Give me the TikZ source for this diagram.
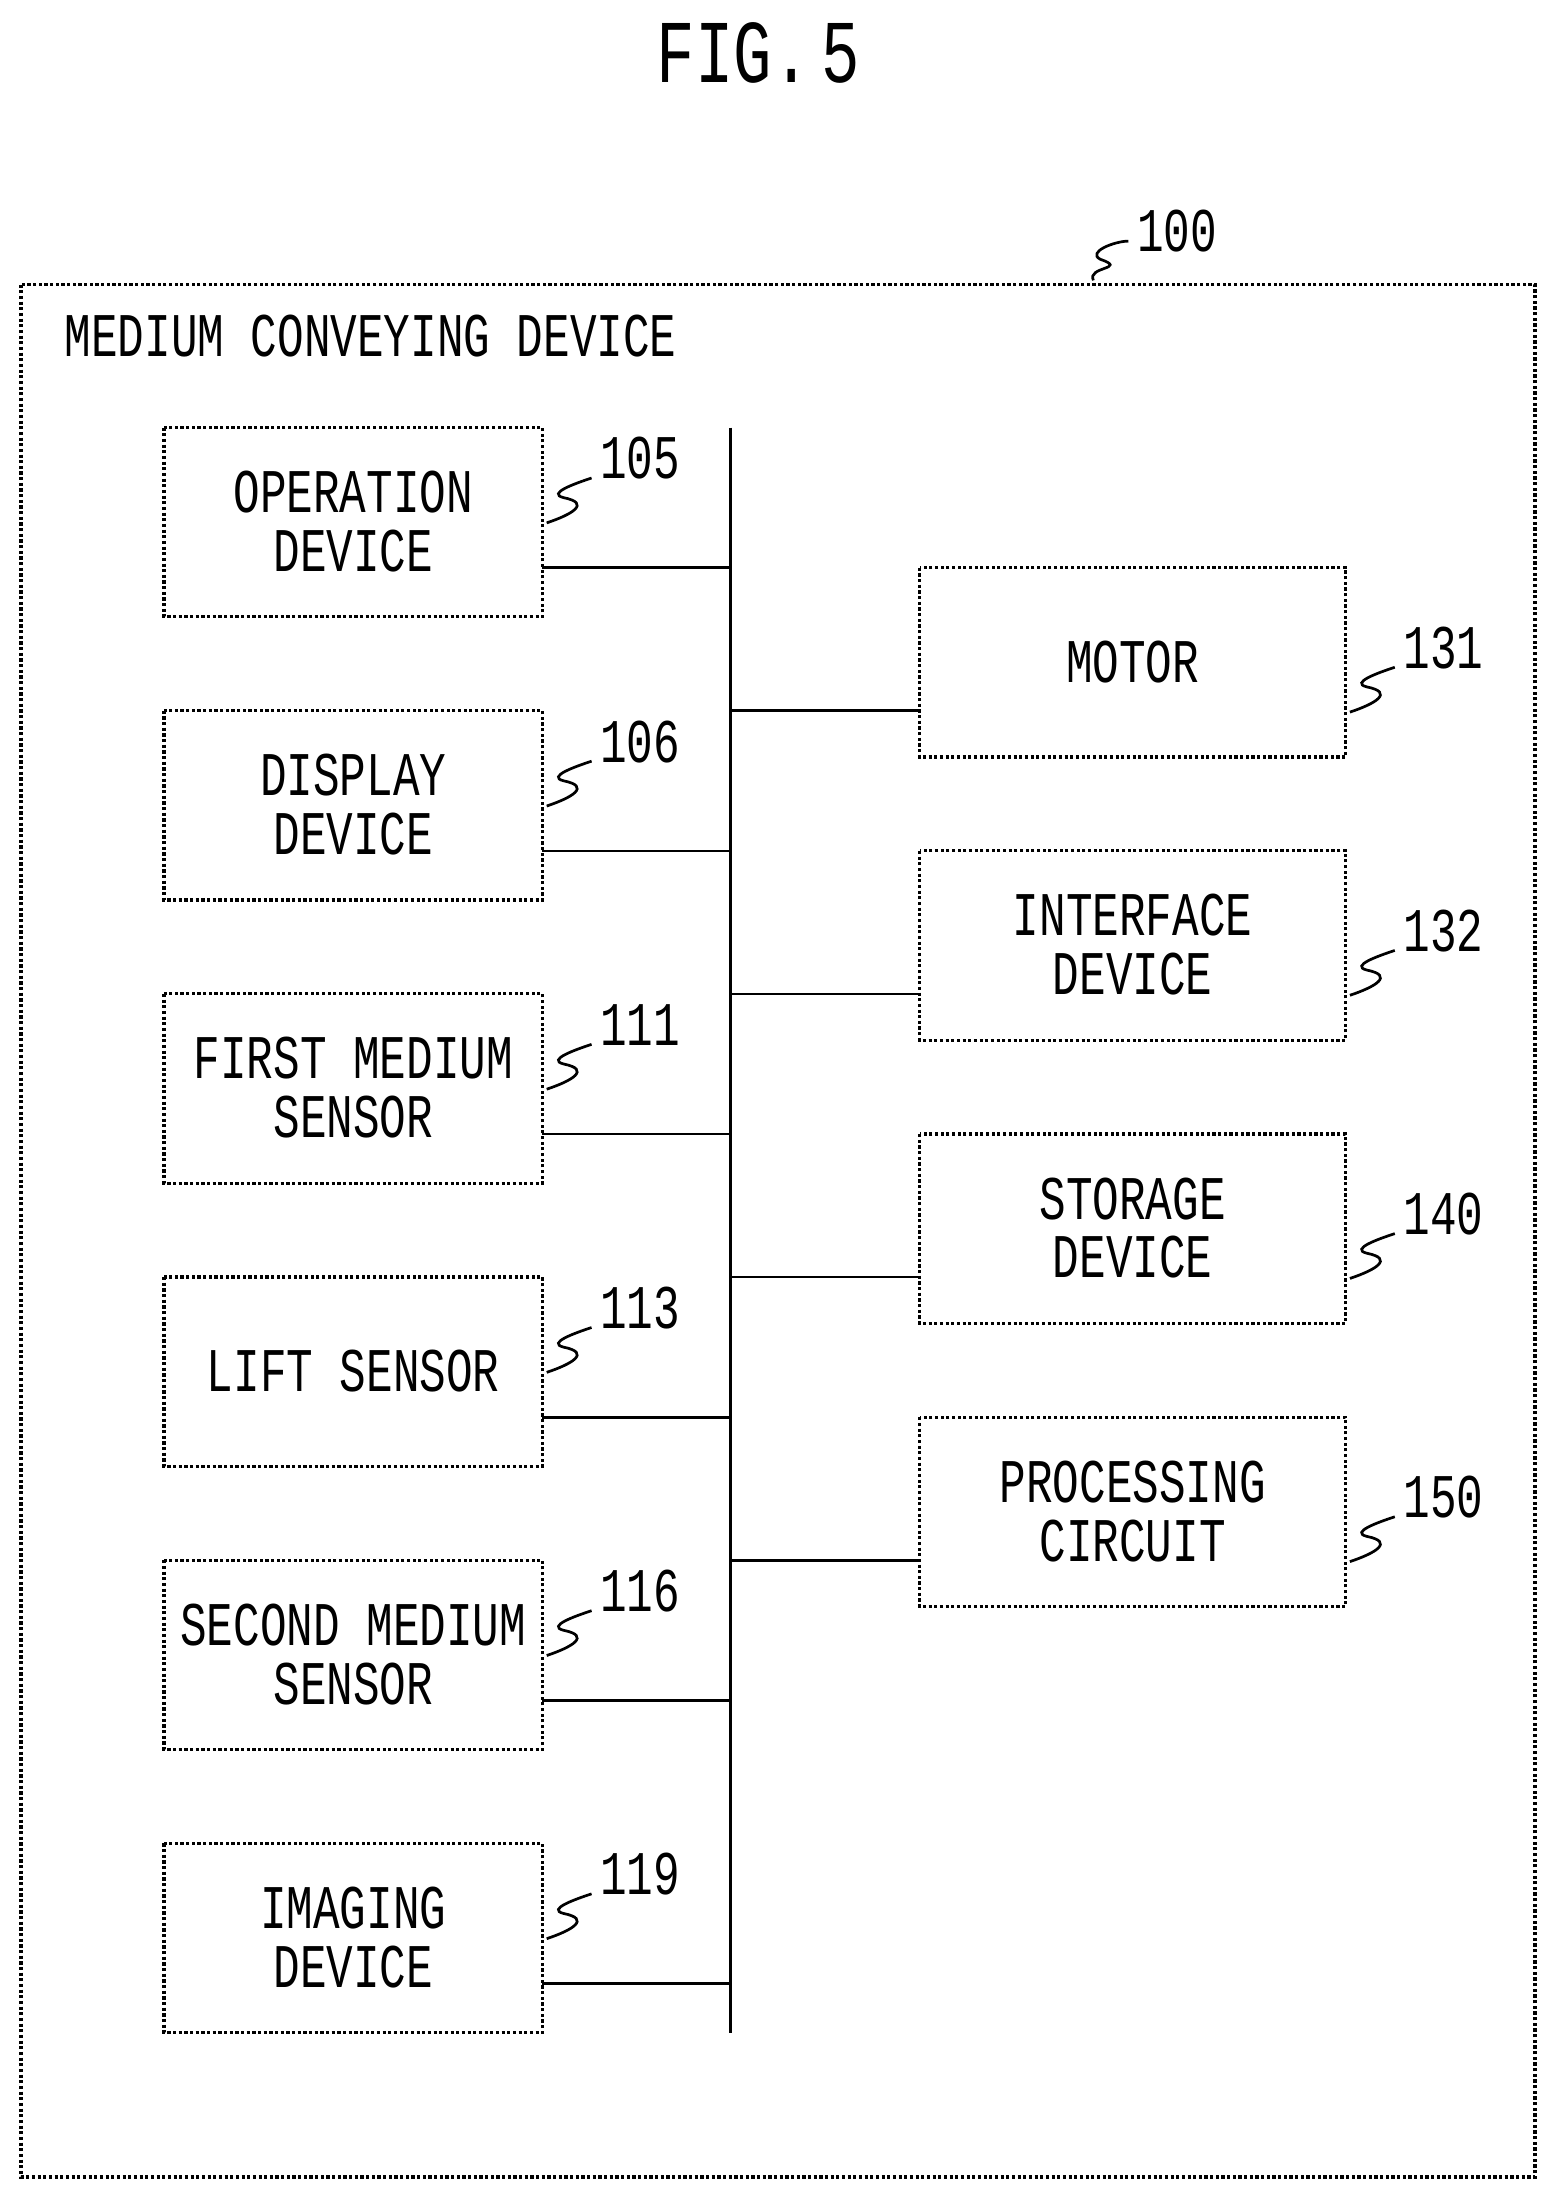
\documentclass[tikz,border=0pt]{standalone}
\usepackage{fontspec}
\setmainfont{Liberation Mono}
\usepackage{graphicx}
\newcommand{\tl}[1]{\scalebox{1}[1.4]{#1}}
\begin{document}
\begin{tikzpicture}[x=0.02cm,y=-0.02cm,
  box/.style={draw,line width=1.3pt,densely dotted},
  bx/.style={line width=1.1pt},
  txt/.style={font=\fontsize{18}{24}\selectfont,align=center},
  num/.style={font=\fontsize{18}{24}\selectfont,anchor=west}]
\useasboundingbox (0,0) rectangle (1110,1568);
\node[font=\fontsize{26}{30}\selectfont] (fig) at (541,38) {\tl{FIG.\,5}};
\draw[box] (15,203) rectangle (1095,1553);
\coordinate (outer) at (780,200);
\node[num] (n100) at (805,165) {\tl{100}};
\draw[bx] (outer) .. controls (775,190) and (805,192) .. (785,185) .. controls (775,180) and (795,172) .. (805,172);
\node[txt,anchor=west] (title) at (40,240) {\tl{MEDIUM CONVEYING DEVICE}};
\coordinate (bustop) at (521,305);
\coordinate (busbot) at (521,1450);
\draw[bx] (bustop) -- (busbot);
\foreach \y/\t/\n in {305/{OPERATION\\DEVICE}/105,507/{DISPLAY\\DEVICE}/106,709/{FIRST MEDIUM\\SENSOR}/111,911/{LIFT SENSOR}/113,1113/{SECOND MEDIUM\\SENSOR}/116,1315/{IMAGING\\DEVICE}/119}{
  \draw[box] (117,\y) rectangle (387,\y+135);
  \node[txt] (L\n) at (252,\y+67) {\tl{\parbox{7cm}{\centering\baselineskip=0.6cm \t}}};
  \coordinate (Lc\n) at (387,\y+100);
  \coordinate (Bc\n) at (521,\y+100);
  \draw[bx] (Lc\n) -- (Bc\n);
  \node[num] (N\n) at (422,\y+22) {\tl{\n}};
  \draw[bx] (390,\y+68) .. controls (408,\y+62) and (422,\y+54) .. (402,\y+50) .. controls (390,\y+47) and (410,\y+40) .. (422,\y+36);
}
\foreach \y/\t/\n in {405/{MOTOR}/131,607/{INTERFACE\\DEVICE}/132,809/{STORAGE\\DEVICE}/140,1011/{PROCESSING\\CIRCUIT}/150}{
  \draw[box] (656,\y) rectangle (960,\y+135);
  \node[txt] (R\n) at (808,\y+67) {\tl{\parbox{7cm}{\centering\baselineskip=0.6cm \t}}};
  \coordinate (Rc\n) at (656,\y+102);
  \coordinate (Bd\n) at (521,\y+102);
  \draw[bx] (Bd\n) -- (Rc\n);
  \node[num] (N\n) at (995,\y+57) {\tl{\n}};
  \draw[bx] (963,\y+103) .. controls (981,\y+97) and (995,\y+89) .. (975,\y+85) .. controls (963,\y+82) and (983,\y+75) .. (995,\y+71);
}
\end{tikzpicture}
\end{document}
